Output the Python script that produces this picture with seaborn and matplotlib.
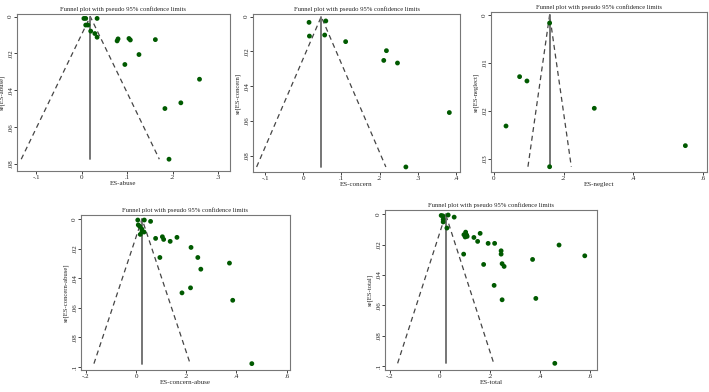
import numpy as np
import pandas as pd
import seaborn as sns
import matplotlib
matplotlib.use("Agg")
import matplotlib.pyplot as plt
from matplotlib.ticker import FuncFormatter, FixedLocator

sns.set_style("white")
plt.rcParams["font.family"] = ["Liberation Serif", "DejaVu Serif"]

# effect sizes (ES) and standard errors (se)
abuse_es = [0.005, 0.009, 0.034, 0.009, 0.014, 0.020, 0.029, 0.034, 0.078, 0.080,
            0.104, 0.107, 0.162, 0.126, 0.095, 0.259, 0.218, 0.183, 0.192]
abuse_se = [0.001, 0.001, 0.001, 0.0046, 0.0046, 0.0079, 0.0092, 0.0112, 0.0132, 0.0121,
            0.0119, 0.0127, 0.0125, 0.0206, 0.026, 0.034, 0.0468, 0.0499, 0.0774]

concern_es = [0.015, 0.059, 0.016, 0.056, 0.111, 0.218, 0.211, 0.247, 0.383, 0.269]
concern_se = [0.0033, 0.0025, 0.0112, 0.0106, 0.0144, 0.0196, 0.0252, 0.0267, 0.0552, 0.0865]

neglect_es = [0.160, 0.074, 0.095, 0.035, 0.288, 0.549, 0.160]
neglect_se = [0.0017, 0.0129, 0.0138, 0.0232, 0.0195, 0.0273, 0.0317]

ca_es = [0.007, 0.033, 0.058, 0.009, 0.015, 0.023, 0.024, 0.032, 0.017, 0.078, 0.105,
         0.110, 0.136, 0.163, 0.219, 0.095, 0.246, 0.258, 0.372, 0.217, 0.183, 0.385, 0.461]
ca_se = [0.0007, 0.0007, 0.0016, 0.004, 0.005, 0.0068, 0.0084, 0.0088, 0.0104, 0.0131, 0.012,
         0.0138, 0.0151, 0.0124, 0.0192, 0.026, 0.026, 0.0339, 0.0298, 0.0465, 0.0499, 0.0549, 0.0977]

total_es = [0.005, 0.012, 0.033, 0.057, 0.013, 0.013, 0.028, 0.096, 0.103, 0.107, 0.109,
            0.101, 0.136, 0.161, 0.151, 0.193, 0.219, 0.245, 0.245, 0.095, 0.371, 0.477,
            0.580, 0.175, 0.249, 0.257, 0.217, 0.249, 0.384, 0.460]
total_se = [0.0007, 0.001, 0.0004, 0.0018, 0.0033, 0.005, 0.009, 0.0134, 0.0117, 0.0136, 0.0145,
            0.0149, 0.0152, 0.0125, 0.0178, 0.0191, 0.0191, 0.024, 0.0262, 0.0262, 0.0297, 0.0202,
            0.0273, 0.033, 0.0325, 0.0343, 0.0468, 0.0563, 0.0554, 0.0982]

# pooled estimates (centre line of each funnel)
pooled = {"abuse": 0.019, "concern": 0.047, "neglect": 0.160,
          "concern-abuse": 0.024, "total": 0.023}

panels = [
    ("abuse", abuse_es, abuse_se, [17, 14, 230, 171], (-0.142, 0.326), (0.0838, -0.0014),
     [-0.1, 0, 0.1, 0.2, 0.3], [0, 0.02, 0.04, 0.06, 0.08]),
    ("concern", concern_es, concern_se, [253, 14, 460, 172], (-0.132, 0.411), (0.0894, -0.0015),
     [-0.1, 0, 0.1, 0.2, 0.3, 0.4], [0, 0.02, 0.04, 0.06, 0.08]),
    ("neglect", neglect_es, neglect_se, [491, 12, 707, 172], (-0.008, 0.611), (0.0328, -0.0006),
     [0, 0.2, 0.4, 0.6], [0, 0.01, 0.02, 0.03]),
    ("concern-abuse", ca_es, ca_se, [81, 215, 290, 370], (-0.219, 0.613), (0.102, -0.0027),
     [-0.2, 0, 0.2, 0.4, 0.6], [0, 0.02, 0.04, 0.06, 0.08, 0.1]),
    ("total", total_es, total_se, [385, 210, 597, 370], (-0.22, 0.629), (0.1026, -0.0029),
     [-0.2, 0, 0.2, 0.4, 0.6], [0, 0.02, 0.04, 0.06, 0.08, 0.1]),
]

W, H = 709, 392
fig = plt.figure(figsize=(W / 100, H / 100), dpi=100)


def stata_fmt(v, pos=None):
    if abs(v) < 1e-12:
        return "0"
    return ("%g" % v).replace("0.", ".")


for name, es, se, box, xlim, ylim, xt, yt in panels:
    l, t, r, b = box
    ax = fig.add_axes([l / W, 1 - b / H, (r - l) / W, (b - t) / H])
    df = pd.DataFrame({"es": es, "se": se})
    theta = pooled[name]
    se_max = max(se)

    # pseudo 95% confidence limits
    ax.plot([theta - 1.96 * se_max, theta, theta + 1.96 * se_max], [se_max, 0, se_max],
            ls=(0, (4, 3)), color="#454545", lw=0.9, zorder=1)
    ax.plot([theta, theta], [0, se_max], color="#6a6a6a", lw=1.3, zorder=1)

    sns.scatterplot(data=df, x="es", y="se", ax=ax, color="#005a00", s=12,
                    edgecolor="none", zorder=3, legend=False)

    ax.set_xlim(*xlim)
    ax.set_ylim(*ylim)
    ax.xaxis.set_major_locator(FixedLocator(xt))
    ax.yaxis.set_major_locator(FixedLocator(yt))
    ax.xaxis.set_major_formatter(FuncFormatter(stata_fmt))
    ax.yaxis.set_major_formatter(FuncFormatter(stata_fmt))
    ax.tick_params(axis="both", direction="out", length=2, width=0.6, pad=0.8,
                   labelsize=5, colors="#222222", bottom=True, left=True)
    for lab in ax.get_yticklabels():
        lab.set_rotation(90)
        lab.set_va("center")
    for sp in ax.spines.values():
        sp.set_color("#777777")
        sp.set_linewidth(0.8)

    ax.set_xlabel("ES-" + name, fontsize=5, labelpad=1)
    ax.set_ylabel("se[ES-" + name + "]", fontsize=4.8)
    ax.yaxis.set_label_coords(-12 / (r - l), 0.5)
    ax.set_title("Funnel plot with pseudo 95% confidence limits", fontsize=4.8, pad=2)

fig.savefig("out.png", dpi=100, facecolor="white")
